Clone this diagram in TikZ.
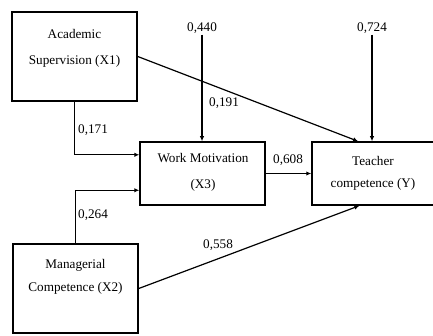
\documentclass[tikz,border=0pt]{standalone}
\usepackage{fontspec}
\setmainfont{Liberation Serif}
\usetikzlibrary{calc, positioning, arrows.meta}

\begin{document}
\begin{tikzpicture}[x=1pt,y=-1pt,-,
                    big box/.style={draw,line width=1.5pt,minimum width=125pt,minimum height=89pt,inner sep=0pt},
                    flat box/.style={draw,line width=1.5pt,minimum width=125pt,minimum height=63pt,inner sep=0pt},
                    box text/.style={align=center,inner sep=0pt,font=\fontsize{13.2}{15}\selectfont},
                    coef/.style={inner sep=1pt,font=\fontsize{13.2}{15}\selectfont},
                    path arrow/.style={-{Latex[length=5pt,width=4.5pt]},line width=1.2pt}]

 \useasboundingbox (0,0) rectangle (433,336);
 \clip (0,0) rectangle (433,336);

 % boxes
 \node[big box] (acad) at (74.5,56.5) {};
 \node[box text] (acadtext) at (74.5,48) {Academic\\[11pt]Supervision (X1)};

 \node[big box] (manag) at (75.5,288.5) {};
 \node[box text] (managtext) at (75.5,277) {Managerial\\[8pt]Competence (X2)};

 \node[flat box] (motiv) at (202.5,173.5) {};
 \node[box text] (motivtext) at (203,172) {Work Motivation\\[11pt](X3)};

 \node[flat box] (teach) at (374.5,173.5) {};
 \node[box text] (teachtext) at (373,173) {Teacher\\[7pt]competence (Y)};

 % residual values
 \node[coef] (err1) at (202,28) {0,440};
 \node[coef] (err2) at (372,28) {0,724};

 % path coefficients
 \node[coef] (c171) at (93,130) {0,171};
 \node[coef] (c264) at (93,215) {0,264};
 \node[coef] (c191) at (224,103) {0,191};
 \node[coef] (c608) at (288,160) {0,608};
 \node[coef] (c558) at (218,245) {0,558};

 \draw[path arrow] (acad.south) |- ($(motiv.north west)!0.21!(motiv.south west)$);
 \draw[path arrow] (manag.north) |- ($(motiv.north west)!0.76!(motiv.south west)$);
 \draw[path arrow] (acad.east) -- ($(teach.north west)!0.37!(teach.north east)$);
 \draw[path arrow] (manag.east) -- ($(teach.south west)!0.38!(teach.south east)$);
 \draw[path arrow] (motiv.east) -- (teach.west);
 \draw[path arrow] (err1.south) -- (err1 |- motiv.north);
 \draw[path arrow] (err2.south) -- (err2 |- teach.north);

\end{tikzpicture}
\end{document}
